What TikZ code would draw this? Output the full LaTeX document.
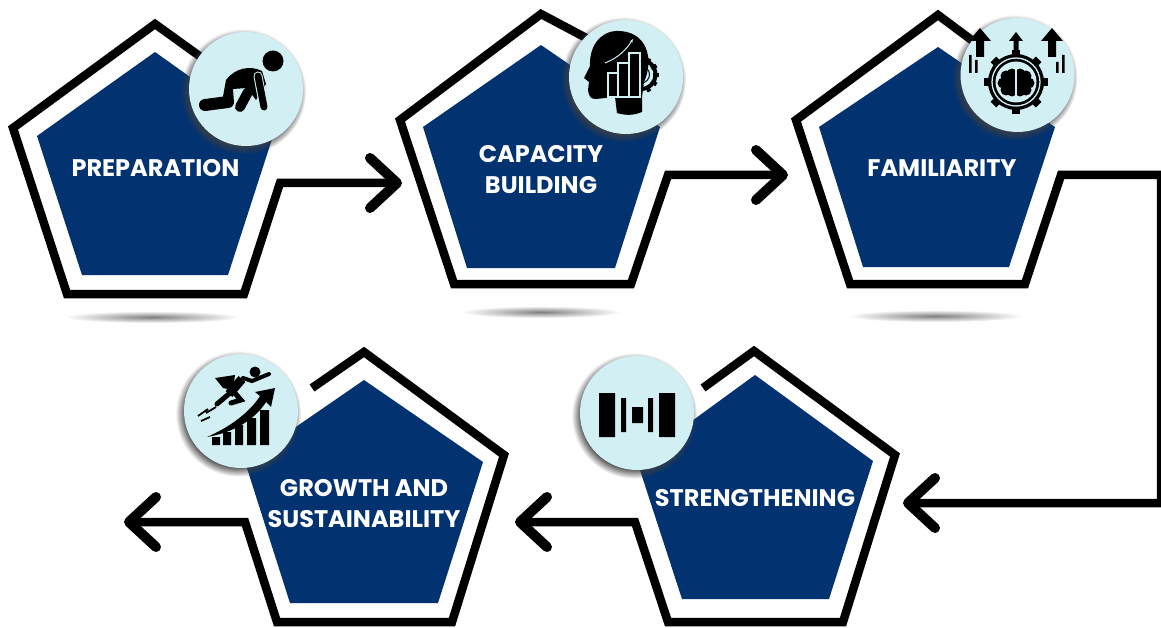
\documentclass[tikz,border=0pt]{standalone}
\usepackage{fontspec}
\setmainfont{Poppins}
\usepackage{tikz}
\usetikzlibrary{arrows.meta,shadows,fadings}
\definecolor{navy}{HTML}{033270}
\definecolor{pale}{HTML}{D2F0F3}
\tikzstyle{line} = [draw, line width=8.5pt, miter limit=10, -{Straight Barb[length=27pt,width=50pt,round,line width=10pt]}]
\tikzstyle{plate} = [fill=navy]
\tikzstyle{title} = [text=white, font=\bfseries\fontsize{24}{31}\selectfont, align=center, inner sep=0pt]
\tikzstyle{badge} = [circle, fill=pale, minimum size=114pt, inner sep=0pt, circular drop shadow={shadow xshift=-2.5pt, shadow yshift=-2.5pt, shadow scale=1.1, opacity=.85, fill=black!75}]
\tikzstyle{ground} = [inner color=black!50, outer color=white]
\tikzstyle{thin} = [draw=pale, line width=1.1pt]
\begin{document}
\begin{tikzpicture}[x=1pt, y=-1pt]
        \useasboundingbox (0,0) rectangle (1161,628);
        % floor shadows
        \shade[ground] (152,317) ellipse (88 and 6);
        \shade[ground] (541,312) ellipse (80 and 6);
        \shade[ground] (935,316) ellipse (88 and 6);
        % preparation
        \coordinate (prepstart) at (205,60);
        \coordinate (preptip) at (402,183);
        \path[line] (prepstart) -- (155,24) -- (13,128) -- (67,294) -- (244,294) -- (280,183) -- (preptip);
        \fill[plate] (155,52) -- (37,136) -- (82,275) -- (228,275) -- (273,136) -- cycle;
        \node[title] (prep) at (155.5,168) {PREPARATION};
        \node[badge] (prepicon) at (246,89) {};
        % capacity building
        \coordinate (capstart) at (590,40);
        \coordinate (captip) at (788,175);
        \path[line] (capstart) -- (541,14) -- (400,120) -- (454,284) -- (631,284) -- (668,175) -- (captip);
        \fill[plate] (541,45) -- (423,127) -- (467,268) -- (615,268) -- (660,127) -- cycle;
        \node[title] (cap) at (541,170) {CAPACITY\\BUILDING};
        \node[badge] (capicon) at (626,77) {};
        % familiarity
        \coordinate (famstart) at (985,50);
        \coordinate (famtip) at (903,503);
        \path[line] (famstart) -- (938,15) -- (796,120) -- (850,284) -- (1025,284) -- (1061,175) -- (1161,175) -- (1161,503) -- (famtip);
        \fill[plate] (938,47) -- (819,127) -- (863,267) -- (1009,267) -- (1055,127) -- cycle;
        \node[title] (fam) at (942,168) {FAMILIARITY};
        \node[badge] (famicon) at (1017.5,75) {};
        % strengthening
        \coordinate (strstart) at (703,388);
        \coordinate (strtip) at (515,522);
        \path[line] (strstart) -- (754,351) -- (895,455) -- (843,622) -- (668,622) -- (635,522) -- (strtip);
        \fill[plate] (755,375) -- (873,461) -- (829,599) -- (682,599) -- (637,461) -- cycle;
        \node[title] (str) at (755,498) {STRENGTHENING};
        \node[badge] (stricon) at (637,413) {};
        % growth and sustainability
        \coordinate (grostart) at (312,388);
        \coordinate (grotip) at (124,522);
        \path[line] (grostart) -- (364,352) -- (504,455) -- (452,622) -- (277,622) -- (245,522) -- (grotip);
        \fill[plate] (364,380) -- (483,462) -- (438,603) -- (290,603) -- (245,462) -- cycle;
        \node[title] (gro) at (364,504) {GROWTH AND\\SUSTAINABILITY};
        \node[badge] (groicon) at (241,411) {};
        % runner
        \fill (273,61) circle (10.5);
        \fill (226,80) .. controls (235,68) and (250,65) .. (262,71) -- (266,84) -- (256,100) -- (247,88) -- (233,89) -- (234,103) -- (222,102) -- cycle;
        \draw[line width=12pt, line cap=round] (205,105) -- (228,102);
        \draw[line width=10pt, line cap=round] (248,92) -- (240,107);
        \draw[pale, line width=9pt, line cap=round] (258,76) -- (264,108);
        \draw[line width=7pt, line cap=round] (258,76) -- (264,107);
        % head with chart
        \fill (616,31) .. controls (599,32) and (589,48) .. (590,66) -- (584,78) -- (589,82) -- (588,90) .. controls (589,97) and (591,99) .. (596,99) -- (615,97) -- (617,113) .. controls (627,116) and (635,115) .. (642,112) -- (642,97) -- (644,82) .. controls (654,60) and (648,30) .. (616,31) -- cycle;
        \draw[thin, fill=black] (608,73) rectangle (618,97);
        \draw[thin, fill=black] (618,63) rectangle (629,97);
        \draw[thin, fill=black] (629,53) rectangle (640,97);
        \draw[pale, line width=1pt, -{Stealth[length=4pt]}] (605,63) .. controls (618,58) and (626,50) .. (633,39);
        \draw[line width=4pt] (641,60) arc (-90:90:14.5);
        \draw[line width=1pt] (641,66) arc (-90:90:8.5);
        \foreach \a in {-60,-30,0,30,60} \draw[line width=4pt] (640,75) ++(\a:13) -- ++(\a:6);
        % brain gear
        \foreach \a in {0,45,...,315} \draw[line width=8pt] (1016,82) ++(\a:26) -- ++(\a:6);
        \fill (1016,82) circle (28);
        \draw[pale, line width=1.3pt] (1016,82) circle (24);
        \fill[pale] (1016,82) circle (20.5);
        \foreach \s in {-1,1} {
            \foreach \dx/\dy in {4/-8,10/-6,13/1,10/8,4/9} \fill (1016+\s*\dx,82+\dy) circle (5.5);
            \fill (1016+\s*7,82) circle (8);
        }
        \draw[pale, line width=1.2pt] (1016,66) -- (1016,98);
        \fill (980,28) -- (991,41) -- (984,41) -- (984,57) -- (976,57) -- (976,41) -- (969,41) -- cycle;
        \fill (1016,32) -- (1023,41) -- (1018.5,41) -- (1018.5,50) -- (1013.5,50) -- (1013.5,41) -- (1009,41) -- cycle;
        \fill (1052,28) -- (1063,41) -- (1056,41) -- (1056,57) -- (1048,57) -- (1048,41) -- (1041,41) -- cycle;
        \fill (969,55) rectangle (971.5,73) (975,60) rectangle (977.5,73);
        \fill (1056,62) rectangle (1058.5,73) (1062,55) rectangle (1064.5,73);
        % strengthening bars
        \fill (599,393) rectangle (615,437) (621,398) rectangle (626,432) (632,407) rectangle (643,423);
        \fill (648,398) rectangle (653,432) (659,393) rectangle (675,437);
        % flying figure
        \fill (255,372) circle (5.5);
        \fill (215,378) -- (235,375) -- (233,390) -- (223,388) -- cycle;
        \draw[line width=9pt] (242,379) -- (229,394);
        \draw[line width=5pt, line cap=round] (230,393) -- (217,404);
        \draw[line width=5pt, line cap=round] (234,392) -- (241,400) -- (231,403);
        \draw[line width=4pt, line cap=round] (243,378) -- (252,381) -- (269,374);
        \draw[line width=1.8pt] (198,416) -- (208,409) (201,421) -- (210,417) (206,413) -- (216,407);
        \fill (207,437) .. controls (230,427) and (250,412) .. (260,396) -- (255,392) -- (275,388) -- (271,407) -- (266,402) .. controls (255,420) and (232,433) .. (207,437) -- cycle;
        \fill (212,437) rectangle (220,445) (223,432) rectangle (231,445) (235,425) rectangle (243,445);
        \fill (247,418) rectangle (256,445) (260,410) rectangle (269,445);
    \end{tikzpicture}
\end{document}
